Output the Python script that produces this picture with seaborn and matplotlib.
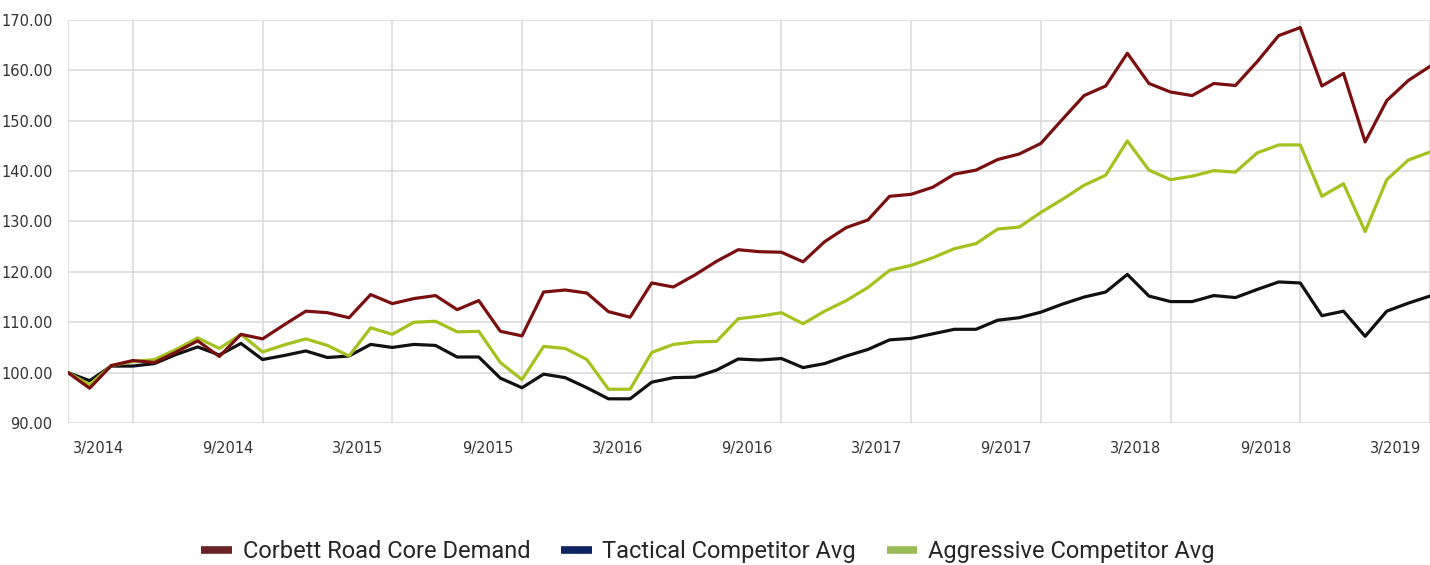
import matplotlib
matplotlib.use("Agg")
import matplotlib.pyplot as plt
from matplotlib.lines import Line2D
import seaborn as sns
import pandas as pd
import numpy as np

start_month = "2013-12-01"
n_months = 64

corbett = [100.0, 96.9, 101.4, 102.4, 102.0, 104.1, 106.3, 103.2, 107.6, 106.7,
           109.5, 112.2, 111.9, 110.9, 115.5, 113.7, 114.7, 115.3, 112.5, 114.3,
           108.2, 107.3, 116.0, 116.4, 115.8, 112.1, 111.0, 117.8, 117.0, 119.4,
           122.1, 124.4, 124.0, 123.9, 122.0, 126.0, 128.8, 130.3, 135.0, 135.4,
           136.8, 139.4, 140.2, 142.3, 143.4, 145.5, 150.3, 155.0, 156.9, 163.4,
           157.4, 155.7, 155.0, 157.4, 157.0, 161.7, 166.9, 168.5, 156.9, 159.4,
           145.8, 154.0, 158.0, 160.8]

tactical = [100.0, 98.4, 101.3, 101.3, 101.8, 103.6, 105.1, 103.5, 105.8, 102.6,
            103.4, 104.3, 103.0, 103.3, 105.6, 105.0, 105.6, 105.4, 103.1, 103.1,
            98.9, 97.0, 99.7, 99.0, 97.0, 94.8, 94.8, 98.1, 99.0, 99.1,
            100.5, 102.7, 102.5, 102.8, 101.0, 101.8, 103.3, 104.6, 106.5, 106.8,
            107.7, 108.6, 108.6, 110.4, 110.9, 112.0, 113.6, 115.0, 116.0, 119.5,
            115.2, 114.1, 114.1, 115.3, 114.9, 116.5, 118.0, 117.8, 111.3, 112.2,
            107.2, 112.2, 113.8, 115.2]

aggressive = [100.0, 97.6, 101.4, 102.2, 102.6, 104.6, 106.9, 104.8, 107.6, 104.1,
              105.5, 106.7, 105.4, 103.3, 108.9, 107.6, 110.0, 110.2, 108.1, 108.2,
              102.0, 98.6, 105.2, 104.8, 102.6, 96.7, 96.7, 104.0, 105.6, 106.1,
              106.2, 110.7, 111.2, 111.9, 109.7, 112.2, 114.3, 116.9, 120.3, 121.3,
              122.8, 124.6, 125.6, 128.5, 128.9, 131.8, 134.4, 137.2, 139.2, 146.0,
              140.2, 138.3, 139.0, 140.1, 139.8, 143.6, 145.2, 145.2, 135.0, 137.5,
              128.0, 138.3, 142.2, 143.8]

series_names = ["Corbett Road Core Demand", "Tactical Competitor Avg", "Aggressive Competitor Avg"]
line_colors = {"Corbett Road Core Demand": "#7a0f10",
               "Tactical Competitor Avg": "#111111",
               "Aggressive Competitor Avg": "#a3c21d"}
legend_colors = ["#6b2426", "#0c2461", "#9bbb59"]
yticks = [90, 100, 110, 120, 130, 140, 150, 160, 170]

months = pd.date_range(start_month, periods=n_months, freq="MS")
idx = np.arange(n_months)

df = pd.concat([
    pd.DataFrame({"m": idx, "value": vals, "series": name})
    for name, vals in zip(series_names, [corbett, tactical, aggressive])
])

sns.set_theme(style="white")
plt.rcParams["font.family"] = ["DejaVu Sans"]

fig = plt.figure(figsize=(14.3, 5.65), dpi=100)
ax = fig.add_axes([68 / 1430, 142 / 565, 1362 / 1430, 403 / 565])

grid_c = "#d9d9d9"
hue_order = ["Tactical Competitor Avg", "Aggressive Competitor Avg", "Corbett Road Core Demand"]
sns.lineplot(data=df, x="m", y="value", hue="series", hue_order=hue_order,
             palette=line_colors, linewidth=2.3, legend=False, ax=ax, sort=False)

ax.set_xlim(0, 62.85)
ax.set_ylim(90, 170)
for s in ax.spines.values():
    s.set_visible(False)

# major ticks: gridlines every 6 months (plus start)
major = [0] + [i for i in idx if months[i].month in (3, 9)]
ax.set_xticks(major)
ax.set_xticklabels([""] * len(major))
minor = [i - 1.6 for i in idx if months[i].month in (3, 9)]
ax.set_xticks(minor, minor=True)
ax.set_xticklabels([f"{months[int(round(p + 1.6))].month}/{months[int(round(p + 1.6))].year}" for p in minor],
                   minor=True)
ax.tick_params(axis="x", which="major", length=9, width=1.1, color=grid_c, direction="out")
ax.tick_params(axis="x", which="minor", length=0, pad=13, labelsize=10.5, labelcolor="#333333")

ax.set_yticks(yticks)
ax.set_yticklabels([f"{v:.2f}" for v in yticks])
ax.tick_params(axis="y", length=8, width=1.1, color=grid_c, direction="out", pad=3,
               labelsize=10.5, labelcolor="#333333")

ax.grid(True, which="major", color=grid_c, linewidth=1.1)
ax.set_axisbelow(True)
ax.set_xlabel("")
ax.set_ylabel("")

handles = [Line2D([0], [0], color=c, lw=5.5, solid_capstyle="butt") for c in legend_colors]
fig.legend(handles, series_names, loc="center", bbox_to_anchor=(0.495, 0.024), ncol=3,
           frameon=False, handlelength=1.3, handletextpad=0.45, columnspacing=1.3,
           prop={"family": ["Roboto", "DejaVu Sans"], "size": 17})

fig.savefig("out.png", dpi=100)
